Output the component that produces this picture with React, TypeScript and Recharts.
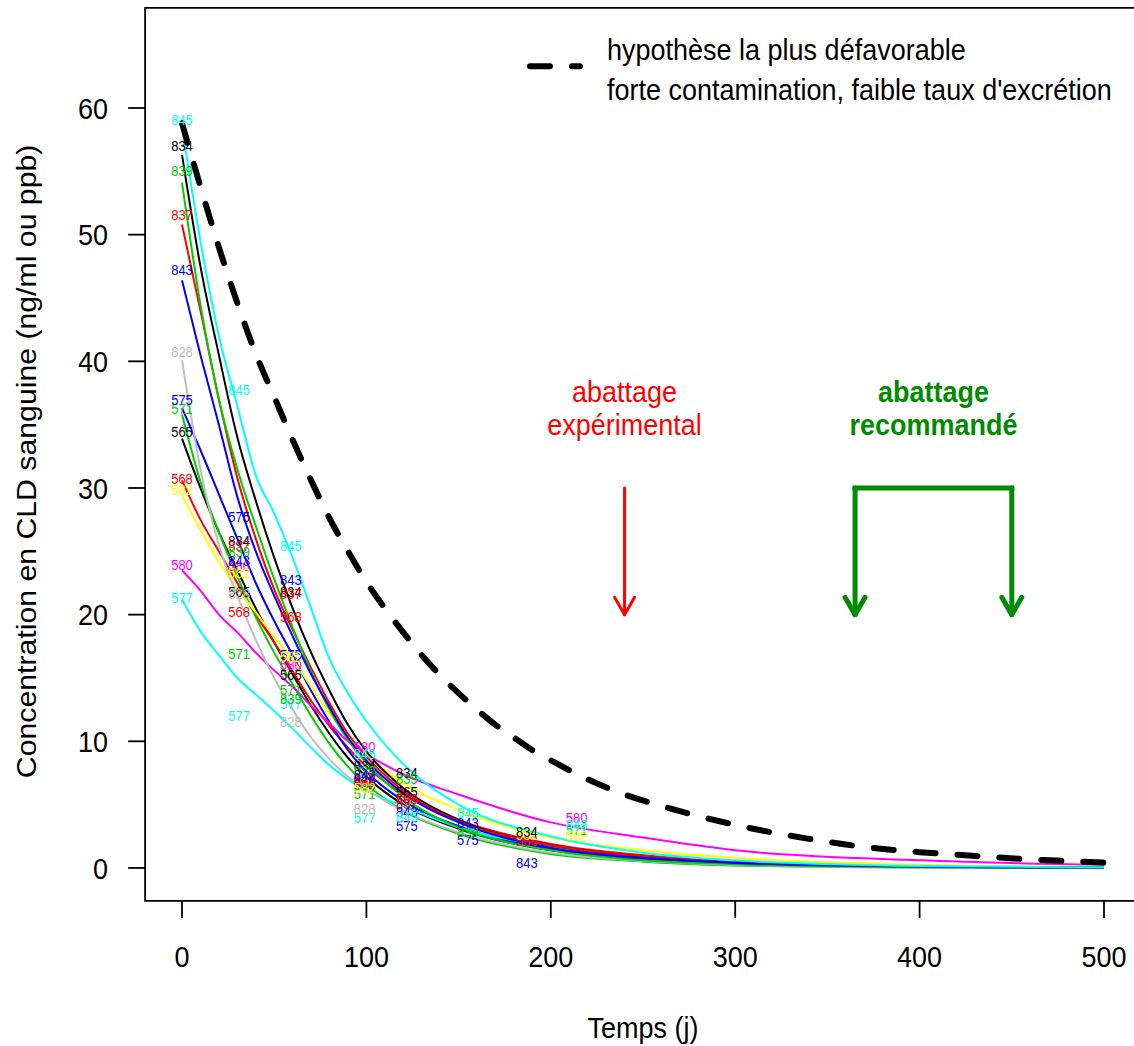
import React from 'react';
import {
  ComposedChart,
  Line,
  Scatter,
  XAxis,
  YAxis,
  ReferenceArea,
  ReferenceLine,
  ReferenceDot,
  Label,
} from 'recharts';

const FONT = '"Liberation Sans", Arial, Helvetica, sans-serif';
// the original picture is slightly stretched vertically, so text is too
const STRETCH = 1.12;

// days at which the fitted curves are read
const CURVE_DAYS = [0, 10, 20, 30, 40, 50, 60, 70, 80, 90, 100, 120, 150, 200, 250, 300, 400, 500];
// days where the animal numbers are written
const LABEL_DAYS = [0, 31, 59, 99, 122, 155, 187, 214];

const ANIMALS = ['565', '568', '571', '575', '577', '580', '582', '828', '834', '837', '839', '843', '845'];
const COLORS = [
  '#000000', '#FF0000', '#00CD00', '#0000FF', '#00FFFF', '#FF00FF', '#FFFF00', '#BEBEBE',
  '#000000', '#FF0000', '#00CD00', '#0000FF', '#00FFFF',
];

// fitted curves (ng/ml)
const fit565 = [33.9, 30.0, 26.5, 23.5, 20.5, 17.8, 15.3, 12.8, 10.6, 8.7, 7.2, 5.0, 3.1, 1.4, 0.7, 0.35, 0.08, 0.02];
const fit568 = [30.6, 27.5, 25.0, 22.5, 20.0, 17.8, 15.5, 13.2, 11.2, 9.5, 8.0, 5.8, 3.8, 1.9, 1.0, 0.5, 0.12, 0.03];
const fit571 = [35.8, 30.5, 26.5, 23.0, 19.8, 17.0, 14.5, 12.0, 9.8, 8.0, 6.6, 4.5, 2.7, 1.1, 0.5, 0.2, 0.04, 0.01];
const fit575 = [36.3, 33.0, 29.5, 26.0, 22.5, 19.5, 16.8, 14.0, 11.5, 9.3, 7.6, 5.3, 3.3, 1.5, 0.7, 0.35, 0.08, 0.02];
const fit577 = [21.2, 18.7, 16.8, 15.0, 13.7, 12.4, 11.0, 9.5, 8.1, 7.0, 6.1, 4.9, 3.2, 1.7, 0.9, 0.5, 0.15, 0.05];
const fit580 = [23.5, 21.9, 20.0, 18.6, 17.0, 15.6, 14.3, 12.8, 11.4, 10.0, 9.0, 7.4, 5.8, 3.6, 2.4, 1.4, 0.6, 0.25];
const fit582 = [29.4, 26.7, 24.2, 22.0, 20.2, 18.2, 16.5, 14.3, 12.2, 10.5, 9.0, 6.7, 4.6, 2.4, 1.4, 0.8, 0.25, 0.08];
const fit828 = [40.1, 31.5, 25.5, 21.5, 18.0, 15.0, 12.5, 10.3, 8.6, 7.2, 6.2, 4.5, 2.8, 1.2, 0.55, 0.25, 0.05, 0.01];
const fit834 = [56.3, 47.5, 40.5, 34.0, 29.0, 24.5, 20.5, 17.0, 14.0, 11.3, 9.2, 6.3, 3.8, 1.8, 0.9, 0.45, 0.1, 0.03];
const fit837 = [50.8, 44.0, 37.0, 30.8, 26.0, 22.0, 18.8, 15.8, 13.0, 10.6, 8.8, 6.1, 3.7, 1.8, 0.9, 0.45, 0.1, 0.03];
const fit839 = [54.1, 44.5, 37.0, 31.5, 27.0, 22.8, 19.0, 15.5, 12.5, 10.1, 8.3, 5.6, 3.2, 1.4, 0.6, 0.3, 0.07, 0.02];
const fit843 = [46.4, 40.5, 35.0, 29.3, 25.0, 21.5, 18.3, 15.3, 12.7, 10.3, 8.5, 5.9, 3.6, 1.6, 0.8, 0.4, 0.1, 0.03];
const fit845 = [58.5, 49.5, 42.0, 36.5, 31.0, 28.0, 24.5, 20.5, 16.5, 13.8, 11.6, 8.2, 5.0, 2.5, 1.2, 0.6, 0.15, 0.05];

// measured values shown as animal numbers (null = not drawn)
const obs565 = [34.4, 21.8, 15.2, 6.5, 6.0, null, null, null];
const obs568 = [30.7, 20.2, 19.8, 6.8, 5.4, null, 2.1, null];
const obs571 = [36.2, 16.9, 14.0, 5.8, null, null, null, 3.0];
const obs575 = [36.9, 27.7, 16.8, 6.9, 3.3, 2.2, null, null];
const obs577 = [21.3, 12.0, 12.9, 3.9, null, null, null, null];
const obs580 = [23.9, 23.8, 16.0, 9.5, null, null, null, 3.9];
const obs582 = [29.8, 23.3, 16.6, 6.3, null, null, 2.6, 2.5];
const obs828 = [40.7, 21.6, 11.5, 4.6, null, null, null, null];
const obs834 = [57.0, 25.8, 21.8, 8.0, 7.5, null, 2.8, null];
const obs837 = [51.5, 25.4, 21.6, 7.1, 5.0, null, null, null];
const obs839 = [55.0, 24.9, 13.3, 7.6, 7.0, 2.8, null, null];
const obs843 = [47.2, 24.2, 22.7, 7.3, 4.4, 3.5, 0.4, null];
const obs845 = [59.0, 37.7, 25.4, 9.0, 4.0, 4.3, null, 3.4];

// worst case hypothesis (dashed)
const WORST_DAYS = [0, 10, 20, 30, 40, 50, 60, 70, 80, 90, 100, 110, 120, 130, 140, 150, 160, 170, 180, 190, 200,
  220, 240, 260, 280, 300, 320, 340, 360, 380, 400, 420, 440, 460, 480, 500];
const WORST_VALUES = [58.8, 53.8, 49.0, 44.6, 40.6, 37.2, 33.8, 30.6, 27.6, 25.0, 22.6, 20.5, 18.6, 16.8, 15.2, 13.8,
  12.5, 11.3, 10.3, 9.3, 8.5, 7.0, 5.8, 4.9, 4.1, 3.4, 2.8, 2.3, 1.85, 1.5, 1.25, 1.05, 0.85, 0.68, 0.55, 0.42];

const X_TICKS = [0, 100, 200, 300, 400, 500];
const Y_TICKS = [0, 10, 20, 30, 40, 50, 60];

const FITS = [fit565, fit568, fit571, fit575, fit577, fit580, fit582, fit828, fit834, fit837, fit839, fit843, fit845];
const OBS = [obs565, obs568, obs571, obs575, obs577, obs580, obs582, obs828, obs834, obs837, obs839, obs843, obs845];

const curveData = FITS.map((vals) => CURVE_DAYS.map((day, i) => ({ day, v: vals[i] })));
const labelData = OBS.map((vals) =>
  LABEL_DAYS.map((day, i) => ({ day, v: vals[i] })).filter((d) => d.v !== null)
);
const worstData = WORST_DAYS.map((day, i) => ({ day, v: WORST_VALUES[i] }));

const RED = '#FF0000';
const DARK_GREEN = '#008B00';

// text drawn centred vertically on (x, y), stretched like the original
const SText = ({ x, y, anchor = 'middle', size = 27, color = '#000', bold = false, children }: any) => (
  <text
    transform={`translate(${x} ${y}) scale(1 ${STRETCH})`}
    x={0}
    y={0}
    fill={color}
    fontSize={size}
    fontFamily={FONT}
    fontWeight={bold ? 'bold' : 'normal'}
    textAnchor={anchor}
    dominantBaseline="central"
  >
    {children}
  </text>
);

const arrowShape = (color: string, width: number) => (p: any) => {
  const { x1, y1, x2, y2 } = p;
  const ang = Math.atan2(y2 - y1, x2 - x1);
  const len = 20;
  const spread = Math.PI / 6;
  const ax = x2 - len * Math.cos(ang - spread);
  const ay = y2 - len * Math.sin(ang - spread);
  const bx = x2 - len * Math.cos(ang + spread);
  const by = y2 - len * Math.sin(ang + spread);
  return (
    <g stroke={color} strokeWidth={width} fill="none" strokeLinecap="round" strokeLinejoin="round">
      <line x1={x1} y1={y1} x2={x2} y2={y2} />
      <polyline points={`${ax},${ay} ${x2},${y2} ${bx},${by}`} />
    </g>
  );
};

const plainLine = (color: string, width: number, dash?: string) => (p: any) => (
  <line
    x1={p.x1}
    y1={p.y1}
    x2={p.x2}
    y2={p.y2}
    stroke={color}
    strokeWidth={width}
    strokeDasharray={dash}
    strokeLinecap={dash ? 'round' : 'square'}
  />
);

const textShape = (text: string, color: string, opts: { anchor?: string; bold?: boolean } = {}) => (p: any) => (
  <SText x={p.cx} y={p.cy} color={color} anchor={opts.anchor || 'middle'} bold={opts.bold}>
    {text}
  </SText>
);

const XTick = ({ x, y, payload }: any) => (
  <SText x={x} y={y + 10}>
    {payload.value}
  </SText>
);

const YTick = ({ x, y, payload }: any) => (
  <SText x={x} y={y} anchor="end">
    {payload.value}
  </SText>
);

const YTitle = ({ viewBox }: any) => {
  const cx = viewBox.x + 27;
  const cy = viewBox.y + viewBox.height / 2 + 7;
  return (
    <text
      transform={`translate(${cx} ${cy}) rotate(-90) scale(${STRETCH} 1)`}
      x={0}
      y={0}
      textAnchor="middle"
      dominantBaseline="central"
      fontSize={27}
      fontFamily={FONT}
      fill="#000"
    >
      Concentration en CLD sanguine (ng/ml ou ppb)
    </text>
  );
};

const XTitle = ({ viewBox }: any) => (
  <SText x={viewBox.x + viewBox.width / 2} y={viewBox.y + 127}>
    Temps (j)
  </SText>
);

const App = () => {
  return (
    <div style={{ position: 'absolute', left: 0, top: 0, width: 1134, height: 1046, overflow: 'hidden', background: '#fff' }}>
      <ComposedChart width={1150} height={1046} margin={{ top: 7.93, right: 9.12, left: 0, bottom: 0 }}>
        <XAxis
          type="number"
          dataKey="day"
          domain={[-20, 520]}
          ticks={X_TICKS}
          allowDataOverflow
          height={145.1}
          axisLine={false}
          tickSize={17}
          tickMargin={29}
          tickLine={{ stroke: '#000', strokeWidth: 1.8 }}
          tick={<XTick />}
        >
          <Label content={XTitle} />
        </XAxis>
        <YAxis
          type="number"
          domain={[-2.6, 67.9]}
          ticks={Y_TICKS}
          allowDataOverflow
          width={145.12}
          axisLine={false}
          tickSize={17}
          tickMargin={20}
          tickLine={{ stroke: '#000', strokeWidth: 1.8 }}
          tick={<YTick />}
        >
          <Label content={YTitle} />
        </YAxis>

        {curveData.map((data, i) => (
          <Line
            key={`fit-${ANIMALS[i]}`}
            data={data}
            dataKey="v"
            type="monotone"
            stroke={COLORS[i]}
            strokeWidth={2}
            dot={false}
            isAnimationActive={false}
          />
        ))}

        {labelData.map((data, i) => (
          <Scatter
            key={`obs-${ANIMALS[i]}`}
            data={data}
            dataKey="v"
            isAnimationActive={false}
            shape={(p: any) => (
              <SText x={p.cx} y={p.cy} size={13} color={COLORS[i]}>
                {ANIMALS[i]}
              </SText>
            )}
          />
        ))}

        <Line
          data={worstData}
          dataKey="v"
          type="monotone"
          stroke="#000"
          strokeWidth={6}
          strokeDasharray="20 22"
          strokeLinecap="round"
          dot={false}
          isAnimationActive={false}
        />

        {/* legend */}
        <ReferenceLine segment={[{ x: 188.7, y: 63.3 }, { x: 215.8, y: 63.3 }]} shape={plainLine('#000', 6, '20 22')} />
        <ReferenceDot x={230.5} y={64.6} r={0} shape={textShape('hypothèse la plus défavorable', '#000', { anchor: 'start' })} />
        <ReferenceDot x={230.5} y={61.5} r={0} shape={textShape("forte contamination, faible taux d'excrétion", '#000', { anchor: 'start' })} />

        {/* experimental slaughter */}
        <ReferenceDot x={240} y={37.6} r={0} shape={textShape('abattage', RED)} />
        <ReferenceDot x={240} y={35.0} r={0} shape={textShape('expérimental', RED)} />
        <ReferenceLine segment={[{ x: 240, y: 30 }, { x: 240, y: 20 }]} shape={arrowShape(RED, 3)} />

        {/* recommended slaughter */}
        <ReferenceDot x={407.5} y={37.6} r={0} shape={textShape('abattage', DARK_GREEN, { bold: true })} />
        <ReferenceDot x={407.5} y={35.0} r={0} shape={textShape('recommandé', DARK_GREEN, { bold: true })} />
        <ReferenceLine segment={[{ x: 365, y: 30 }, { x: 450, y: 30 }]} shape={plainLine(DARK_GREEN, 5)} />
        <ReferenceLine segment={[{ x: 365, y: 30 }, { x: 365, y: 20 }]} shape={arrowShape(DARK_GREEN, 5)} />
        <ReferenceLine segment={[{ x: 450, y: 30 }, { x: 450, y: 20 }]} shape={arrowShape(DARK_GREEN, 5)} />

        <ReferenceArea x1={-20} x2={520} y1={-2.6} y2={67.9} fill="none" fillOpacity={0} stroke="#000" strokeWidth={1.8} />
      </ComposedChart>
    </div>
  );
};

export default App;
